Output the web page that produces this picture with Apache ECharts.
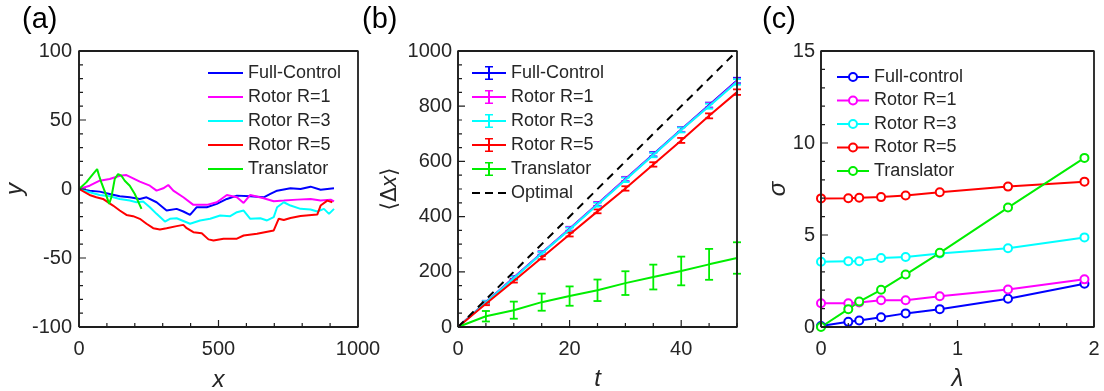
<!DOCTYPE html>
<html>
<head>
<meta charset="utf-8">
<script src="https://cdn.jsdelivr.net/npm/echarts@6.0.0/dist/echarts.min.js"></script>
<style>
  html, body { margin: 0; padding: 0; background: #fff; }
  #chart { width: 1104px; height: 391px; }
</style>
</head>
<body>
<div id="chart"></div>
<script>
// ---- data ----
// (a) sample trajectories, [x, y]
const trajFullControl = [[0,0],[38,-1.2],[74,-1.9],[110,-3.6],[146,-5.3],[182,-6],[218,-7.2],[242,-6],[278,-9.6],[314,-15.6],[350,-14.4],[374,-16.3],[398,-18.8],[422,-13.2],[458,-13.2],[494,-10.8],[530,-7.2],[566,-4.8],[614,-5.3],[662,-6],[686,-3.6],[710,-1.2],[758,0.5],[794,0],[830,1.7],[866,-0.5],[914,0.5]];
const trajRotorR1 = [[0,0],[38,2.4],[74,6],[110,7.2],[146,9.6],[170,10.1],[194,7.7],[218,5.3],[254,2.4],[278,-1.2],[302,0.5],[320,2.9],[338,-1.2],[374,-6],[410,-11.5],[458,-11.5],[494,-9.6],[530,-4.3],[566,-6],[590,-10.1],[614,-4.3],[662,-6.7],[698,-8.9],[734,-8.4],[782,-7.7],[830,-7.2],[866,-8.4],[902,-7.7],[914,-9]];
const trajRotorR3 = [[0,0],[38,-2.4],[74,-4.3],[110,-5.3],[146,-7.2],[182,-8.4],[206,-9.6],[230,-9.1],[254,-13.2],[278,-18],[308,-23.6],[326,-21.6],[350,-21.2],[398,-25.2],[434,-22.8],[470,-21.6],[506,-19.2],[542,-19.7],[566,-16.8],[590,-15.6],[614,-21.6],[650,-21.2],[674,-22.8],[698,-20.4],[710,-13.2],[734,-9.6],[758,-12],[794,-14.4],[830,-14.9],[854,-16.3],[878,-14.4],[896,-18],[914,-14.4]];
const trajRotorR5 = [[0,0],[38,-4.3],[62,-6],[86,-7.2],[122,-12],[146,-15.6],[170,-18.8],[194,-19.7],[218,-21.6],[242,-25.2],[266,-28.4],[290,-29.3],[314,-28.4],[350,-26.9],[374,-26],[386,-28.4],[410,-31.3],[440,-32],[464,-36.5],[482,-37.3],[518,-36],[566,-36],[590,-33.7],[638,-32.5],[698,-30],[716,-21.5],[734,-22.5],[758,-21],[794,-19.5],[854,-18.5],[866,-12],[890,-8.4],[908,-9.6]];
const trajTranslator = [[0,0],[26,4.8],[50,10.8],[65,14.4],[72,9.6],[80,4.8],[98,-4.8],[108,-10.8],[116,-6],[128,7.2],[140,10.8],[152,9.6],[164,6],[182,2.4],[200,-3.6],[224,-14.4]];

// (b) mean displacement vs t, with error half-widths
const tValues = [0, 5, 10, 15, 20, 25, 30, 35, 40, 45, 50];
const dispFullControl = [0, 90, 179, 268, 356, 446, 536, 626, 716, 804, 893];
const dispRotorR1 = [0, 89, 178, 267, 355, 445, 535, 624, 715, 802, 890];
const dispRotorR3 = [0, 89, 177, 266, 353, 443, 533, 623, 714, 800, 888];
const dispRotorR5 = [0, 84, 167, 251, 335, 419, 502, 589, 676, 765, 851];
const dispTranslator = [0, 39, 61, 90, 112, 133, 159, 181, 203, 227, 250];
const errSmall = [0, 5, 6, 6, 7, 7, 8, 8, 9, 9, 10];
const errTranslator = [0, 19, 31, 31, 35, 39, 43, 45, 52, 56, 57];
const optimalT = [0, 50];
const optimalDisp = [0, 1000];

// (c) sigma vs lambda
const lambdaValues = [0, 0.2, 0.28, 0.44, 0.62, 0.87, 1.37, 1.93];
const sigmaFullControl = [0.05, 0.28, 0.35, 0.53, 0.74, 0.97, 1.54, 2.35];
const sigmaRotorR1 = [1.29, 1.29, 1.33, 1.45, 1.45, 1.67, 2.04, 2.59];
const sigmaRotorR3 = [3.55, 3.58, 3.58, 3.75, 3.8, 4.0, 4.28, 4.87];
const sigmaRotorR5 = [6.99, 7.0, 7.02, 7.06, 7.15, 7.32, 7.63, 7.9];
const sigmaTranslator = [0, 0.97, 1.38, 2.02, 2.85, 4.03, 6.49, 9.19];

const namesAB = ['Full-Control', 'Rotor R=1', 'Rotor R=3', 'Rotor R=5', 'Translator'];
const namesC = ['Full-control', 'Rotor R=1', 'Rotor R=3', 'Rotor R=5', 'Translator'];
const colors = ['#0000ff', '#ff00ff', '#00ffff', '#ff0000', '#00ee00'];

// axis ranges: [min, max, major step, minor step]
const axisA = { x: [0, 1000, 500, 100], y: [-100, 100, 50, 10] };
const axisB = { x: [0, 50, 20, 5], y: [0, 1000, 200, 50] };
const axisC = { x: [0, 2, 1, 0.2], y: [0, 15, 5, 1] };

// ---- styling ----
const FONT = '"Liberation Sans", Arial, sans-serif';
const INK = '#262626';
const FRAME = '#1e1e1e';
const LINE_ICON = 'path://M0,0H35V2H0Z';
const ERR_ICON = 'path://M0,6H34V8H0Z M16,0H18V14H16Z M13,0H21V1.6H13Z M13,12.4H21V14H13Z';
const DASH_ICON = 'path://M0,6H8V8H0Z M13,6H21V8H13Z M26,6H34V8H26Z';

const grids = [
  { left: 79, top: 51, width: 279, height: 276 },
  { left: 458, top: 51, width: 279, height: 276 },
  { left: 821, top: 51, width: 273, height: 276 }
];

function axis(gridIndex, r, margin, name, nameGap, extra) {
  return Object.assign({
    type: 'value', gridIndex, min: r[0], max: r[1], interval: r[2],
    axisLine: { show: false, onZero: false },
    axisTick: { show: false },
    splitLine: { show: false },
    axisLabel: { color: INK, fontSize: 20, fontFamily: FONT, margin, formatter: v => String(v) },
    name, nameGap, nameLocation: 'middle', nameMoveOverlap: false,
    nameTextStyle: { color: INK, fontSize: 24, fontStyle: 'italic', fontFamily: FONT }
  }, extra || {});
}

function steps(min, max, step) {
  const out = [];
  for (let k = 0; min + k * step <= max + 1e-9; k++) out.push(+(min + k * step).toFixed(6));
  return out;
}

// box and inward ticks, drawn as plain polylines on each grid's own axes
function frameSeries(gi, ax) {
  const [x0, x1, xMaj, xMin] = ax.x;
  const [y0, y1, yMaj, yMin] = ax.y;
  const g = grids[gi];
  const isMaj = (v, m) => Math.abs(v / m - Math.round(v / m)) < 1e-6;
  const tickPath = [];
  steps(x0, x1, xMin).forEach(v => {
    const l = (isMaj(v, xMaj) ? 7 : 4) / g.height * (y1 - y0);
    tickPath.push([v, y0], [v, y0 + l], [v, y0]);
  });
  steps(y0, y1, yMin).forEach(v => {
    const l = (isMaj(v, yMaj) ? 7 : 4) / g.width * (x1 - x0);
    tickPath.push([x0, v], [x0 + l, v], [x0, v]);
  });
  const common = { type: 'line', xAxisIndex: gi, yAxisIndex: gi, symbol: 'none', silent: true,
    clip: false, z: 5, color: FRAME, tooltip: { show: false } };
  return [
    Object.assign({ data: [[x0, y0], [x1, y0], [x1, y1], [x0, y1], [x0, y0]], lineStyle: { width: 1.8, color: FRAME } }, common),
    Object.assign({ data: tickPath, lineStyle: { width: 1.2, color: FRAME } }, common)
  ];
}

const series = [];
const pre = (p, n) => p + ':' + n;

// (a)
[trajFullControl, trajRotorR1, trajRotorR3, trajRotorR5, trajTranslator].forEach((d, i) => {
  series.push({
    type: 'line', name: pre('a', namesAB[i]), xAxisIndex: 0, yAxisIndex: 0,
    data: d, symbol: 'none', color: colors[i], lineStyle: { width: 2 }
  });
});

// (b)
const dispSets = [dispFullControl, dispRotorR1, dispRotorR3, dispRotorR5, dispTranslator];
const errSets = [errSmall, errSmall, errSmall, errSmall, errTranslator];
dispSets.forEach((d, i) => {
  series.push({
    type: 'line', name: pre('b', namesAB[i]), xAxisIndex: 1, yAxisIndex: 1,
    data: tValues.map((t, k) => [t, d[k]]), symbol: 'none', color: colors[i], lineStyle: { width: 2 }
  });
});
dispSets.forEach((d, i) => {
  const color = colors[i];
  series.push({
    type: 'custom', name: pre('b', namesAB[i]), xAxisIndex: 1, yAxisIndex: 1, clip: false,
    itemStyle: { color },
    data: tValues.map((t, k) => [t, d[k] - errSets[i][k], d[k] + errSets[i][k]]).filter((r, k) => errSets[i][k] > 0),
    encode: { x: 0, y: [1, 2] },
    renderItem(params, api) {
      const lo = api.coord([api.value(0), api.value(1)]);
      const hi = api.coord([api.value(0), api.value(2)]);
      const w = 4;
      const style = { stroke: color, lineWidth: 1.8 };
      return { type: 'group', children: [
        { type: 'line', shape: { x1: lo[0], y1: lo[1], x2: hi[0], y2: hi[1] }, style },
        { type: 'line', shape: { x1: lo[0] - w, y1: lo[1], x2: lo[0] + w, y2: lo[1] }, style },
        { type: 'line', shape: { x1: hi[0] - w, y1: hi[1], x2: hi[0] + w, y2: hi[1] }, style }
      ]};
    }
  });
});
series.push({
  type: 'line', name: 'b:Optimal', xAxisIndex: 1, yAxisIndex: 1,
  data: optimalT.map((t, k) => [t, optimalDisp[k]]), symbol: 'none', color: '#000',
  lineStyle: { width: 2, type: [8, 6] }
});

// (c)
[sigmaFullControl, sigmaRotorR1, sigmaRotorR3, sigmaRotorR5, sigmaTranslator].forEach((d, i) => {
  series.push({
    type: 'line', name: pre('c', namesC[i]), xAxisIndex: 2, yAxisIndex: 2,
    data: lambdaValues.map((l, k) => [l, d[k]]),
    symbol: 'emptyCircle', symbolSize: 8, color: colors[i],
    itemStyle: { borderWidth: 1.6 }, lineStyle: { width: 2 }
  });
});

series.push(...frameSeries(0, axisA), ...frameSeries(1, axisB), ...frameSeries(2, axisC));

const legendText = { fontSize: 18, lineHeight: 20, color: INK, fontFamily: FONT };
const strip = n => n.slice(2);
const titleStyle = { fontSize: 29, fontWeight: 'normal', color: '#000', fontFamily: FONT };

const option = {
  animation: false,
  title: [
    { text: '(a)', left: 22, top: 5, padding: 0, textStyle: titleStyle },
    { text: '(b)', left: 362, top: 5, padding: 0, textStyle: titleStyle },
    { text: '(c)', left: 762, top: 5, padding: 0, textStyle: titleStyle }
  ],
  grid: grids.map(g => Object.assign({ outerBoundsMode: 'none' }, g)),
  xAxis: [
    axis(0, axisA.x, 12, 'x', 41),
    axis(1, axisB.x, 12, 't', 40, { axisLabel: { color: INK, fontSize: 20, fontFamily: FONT, margin: 12, showMaxLabel: false } }),
    axis(2, axisC.x, 12, 'λ', 40)
  ],
  yAxis: [
    axis(0, axisA.y, 7, 'y', 52),
    axis(1, axisB.y, 6, '{n|⟨Δ}{i|x}{n|⟩}', 57, {
      nameTextStyle: { color: INK, fontSize: 22, fontFamily: FONT,
        rich: { n: { fontSize: 22, color: INK, fontFamily: '"DejaVu Sans", ' + FONT },
                i: { fontSize: 22, color: INK, fontStyle: 'italic', fontFamily: FONT } } }
    }),
    axis(2, axisC.y, 6, 'σ', 31)
  ],
  legend: [
    { left: 208, top: 63, padding: 0, orient: 'vertical', itemWidth: 35, itemHeight: 14, itemGap: 4,
      selectedMode: false, textStyle: legendText, formatter: strip,
      data: namesAB.map(n => ({ name: pre('a', n), icon: LINE_ICON })) },
    { left: 472, top: 63, padding: 0, orient: 'vertical', itemWidth: 34, itemHeight: 14, itemGap: 4,
      selectedMode: false, textStyle: legendText, formatter: strip,
      data: namesAB.map(n => ({ name: pre('b', n), icon: ERR_ICON })).concat([{ name: 'b:Optimal', icon: DASH_ICON }]) },
    { left: 836, top: 67, padding: 0, orient: 'vertical', itemWidth: 32, itemHeight: 10, itemGap: 3.5,
      selectedMode: false, textStyle: legendText, formatter: strip,
      data: namesC.map(n => pre('c', n)) }
  ],
  series
};

const chart = echarts.init(document.getElementById('chart'), null, { renderer: 'canvas' });
chart.setOption(option);
</script>
</body>
</html>
